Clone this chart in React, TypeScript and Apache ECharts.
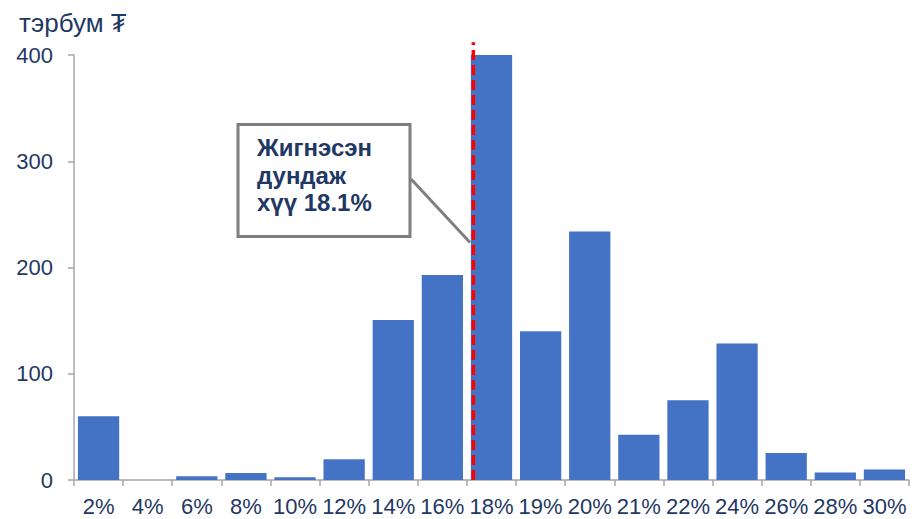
import React, { useEffect, useRef } from "react";
import * as echarts from "echarts";

const categories = ["2%", "4%", "6%", "8%", "10%", "12%", "14%", "16%", "18%", "19%", "20%", "21%", "22%", "24%", "26%", "28%", "30%"];
const amounts = [60, 0, 3.5, 6.5, 2.5, 19.5, 150.5, 193, 400, 140, 234, 42.5, 75, 128.5, 25.5, 7, 10];
const yTicks = { min: 0, max: 400, interval: 100 };
// weighted average marker position on category index scale (0..17)
const avgPos = 8.13;
const avgLine = [[avgPos, 0], [avgPos, 412]];
const unitLabel = "тэрбум ₮";
const annotation = "Жигнэсэн\nдундаж\nхүү 18.1%";

const navy = "#1f3864";
const axisGray = "#a6a6a6";
const font = "Arial, 'Liberation Sans', sans-serif";

export default function App() {
  const ref = useRef<HTMLDivElement>(null);
  useEffect(() => {
    if (!ref.current) return;
    const chart = echarts.init(ref.current, null, { renderer: "svg" });
    chart.setOption({
      animation: false,
      grid: { left: 74, right: 3, top: 55, bottom: 39, containLabel: false },
      xAxis: [
        {
          type: "category",
          data: categories,
          axisLine: { show: true, lineStyle: { color: axisGray, width: 1.5 } },
          axisTick: { show: true, length: 6, lineStyle: { color: axisGray, width: 1.5 } },
          axisLabel: { color: navy, fontSize: 22, fontFamily: font, margin: 15, interval: 0 },
        },
        { type: "value", min: 0, max: 17, show: false },
      ],
      yAxis: {
        type: "value",
        min: yTicks.min,
        max: yTicks.max,
        interval: yTicks.interval,
        splitLine: { show: false },
        axisLine: { show: true, lineStyle: { color: axisGray, width: 1.5 } },
        axisTick: { show: true, length: 6, lineStyle: { color: axisGray, width: 1.5 } },
        axisLabel: { color: navy, fontSize: 22, fontFamily: font, margin: 21 },
      },
      series: [
        {
          type: "bar",
          data: amounts,
          barCategoryGap: "16%",
          itemStyle: { color: "#4472c4" },
        },
        {
          type: "line",
          xAxisIndex: 1,
          yAxisIndex: 0,
          data: avgLine,
          symbol: "none",
          clip: false,
          lineStyle: { color: "#ff0000", width: 3.5, type: [10, 5] },
          z: 5,
        },
      ],
      graphic: [
        {
          type: "text",
          left: 19,
          top: 10,
          style: { text: unitLabel, fill: navy, font: `26px ${font}` },
        },
        {
          type: "line",
          shape: { x1: 411, y1: 179, x2: 470, y2: 242.5 },
          style: { stroke: "#7f7f7f", lineWidth: 3 },
          z: 10,
        },
        {
          type: "rect",
          shape: { x: 238, y: 124.5, width: 172, height: 112 },
          style: { fill: "#ffffff", stroke: "#7f7f7f", lineWidth: 3 },
          z: 11,
        },
        {
          type: "text",
          x: 257,
          y: 134,
          style: {
            text: annotation,
            fill: navy,
            font: `bold 24px ${font}`,
            lineHeight: 27.5,
            verticalAlign: "top",
          },
          z: 12,
        },
      ],
    });
    return () => chart.dispose();
  }, []);
  return <div ref={ref} style={{ width: 912, height: 519, position: "absolute", left: 0, top: 0 }} />;
}
